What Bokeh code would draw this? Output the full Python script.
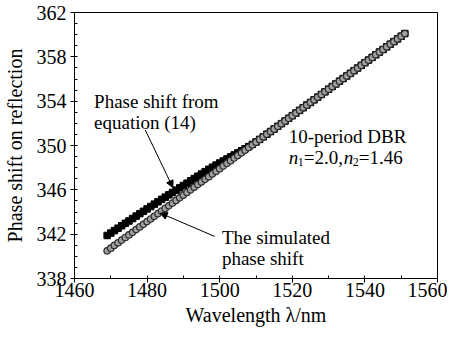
from bokeh.plotting import figure
from bokeh.models import ColumnDataSource, Label, Arrow, NormalHead, Range1d, FixedTicker
from bokeh.embed import file_html
from bokeh.resources import INLINE

# wavelength grid (nm)
wavelength = list(range(1469, 1552))

# phase shift from equation (14)
phase_eq14 = [
    341.88, 342.10, 342.32, 342.54, 342.76, 342.98, 343.19, 343.41, 343.63, 343.85,
    344.06, 344.28, 344.49, 344.71, 344.92, 345.14, 345.34, 345.55, 345.76, 345.97,
    346.18, 346.39, 346.60, 346.81, 347.02, 347.23, 347.43, 347.64, 347.85, 348.04,
    348.23, 348.42, 348.61, 348.79, 348.97, 349.15, 349.33, 349.52, 349.71, 349.90,
    350.10, 350.32, 350.55, 350.78, 351.02, 351.26, 351.49, 351.73, 351.97, 352.21,
    352.45, 352.69, 352.93, 353.17, 353.41, 353.65, 353.88, 354.12, 354.36, 354.60,
    354.84, 355.08, 355.32, 355.56, 355.80, 356.04, 356.27, 356.51, 356.75, 356.99,
    357.23, 357.47, 357.71, 357.95, 358.19, 358.43, 358.66, 358.90, 359.14, 359.38,
    359.62, 359.86, 360.10,
]

# simulated phase shift
phase_sim = [
    340.50, 340.74, 340.98, 341.22, 341.46, 341.70, 341.93, 342.17, 342.41, 342.65,
    342.89, 343.13, 343.37, 343.61, 343.85, 344.09, 344.32, 344.56, 344.80, 345.04,
    345.28, 345.52, 345.76, 346.00, 346.24, 346.48, 346.71, 346.95, 347.19, 347.43,
    347.67, 347.91, 348.15, 348.39, 348.63, 348.87, 349.10, 349.34, 349.58, 349.82,
    350.06, 350.30, 350.54, 350.78, 351.02, 351.26, 351.49, 351.73, 351.97, 352.21,
    352.45, 352.69, 352.93, 353.17, 353.41, 353.65, 353.88, 354.12, 354.36, 354.60,
    354.84, 355.08, 355.32, 355.56, 355.80, 356.04, 356.27, 356.51, 356.75, 356.99,
    357.23, 357.47, 357.71, 357.95, 358.19, 358.43, 358.66, 358.90, 359.14, 359.38,
    359.62, 359.86, 360.10,
]

x_ticks = [1460, 1480, 1500, 1520, 1540, 1560]
y_ticks = [338, 342, 346, 350, 354, 358, 362]

FONT = "Liberation Serif"

p = figure(width=447, height=333, output_backend="svg", toolbar_location=None,
           x_range=Range1d(1460, 1560), y_range=Range1d(338, 362),
           min_border_left=68, min_border_right=10, min_border_top=12,
           min_border_bottom=55)
p.background_fill_color = "white"
p.border_fill_color = "white"
p.outline_line_color = "black"
p.outline_line_width = 1
p.xgrid.visible = False
p.ygrid.visible = False

src = ColumnDataSource(dict(x=wavelength, eq=phase_eq14, sim=phase_sim))
p.scatter("x", "eq", source=src, marker="square", size=6.5,
          fill_color="black", line_color="black")
p.scatter("x", "sim", source=src, marker="circle", size=6.5,
          fill_color="#a0a0a0", line_color="#2a2a2a", line_width=1.2)

p.axis.major_label_text_font = FONT
p.axis.axis_label_text_font = FONT
for ax in (p.xaxis[0], p.yaxis[0]):
    ax.axis_line_color = "black"
    ax.major_tick_line_color = "black"
    ax.minor_tick_line_color = "black"
    ax.major_tick_out = 4
    ax.major_tick_in = 0
    ax.minor_tick_out = 0
    ax.minor_tick_in = 3
    ax.major_label_text_font = FONT
    ax.major_label_text_font_style = "normal"
    ax.major_label_text_font_size = "20px"
    ax.major_label_text_color = "black"
    ax.axis_label_text_font = FONT
    ax.axis_label_text_font_size = "20px"
    ax.axis_label_text_font_style = "normal"
    ax.axis_label_text_color = "black"

p.xaxis[0].ticker = FixedTicker(ticks=x_ticks, minor_ticks=list(range(1460, 1561, 10)))
p.yaxis[0].ticker = FixedTicker(ticks=y_ticks, minor_ticks=list(range(338, 363, 1)))
p.xaxis[0].axis_label = "Wavelength λ/nm"
p.yaxis[0].axis_label = "Phase shift on reflection"
p.xaxis[0].major_label_standoff = 0
p.xaxis[0].axis_label_standoff = 4
p.yaxis[0].major_label_standoff = 4
p.yaxis[0].axis_label_standoff = 8

def lab(x, y, text, size="19px", style="normal", x_offset=0, y_offset=0):
    p.add_layout(Label(x=x, y=y, text=text, text_font=FONT, text_font_size=size,
                       text_font_style=style, text_color="black",
                       text_baseline="alphabetic", text_align="left",
                       x_offset=x_offset, y_offset=y_offset))

lab(1465.4, 353.97, "Phase shift from")
lab(1465.4, 352.11, "equation (14)")
lab(1519.0, 350.78, "10-period DBR")
# n1=2.0,n2=1.46 composed of parts
ny = 348.91
lab(1519.0, ny, "n", style="italic")
lab(1519.0, ny, "1", size="12px", x_offset=9, y_offset=-4)
lab(1519.0, ny, "=2.0,", x_offset=15)
lab(1519.0, ny, "n", style="italic", x_offset=55)
lab(1519.0, ny, "2", size="12px", x_offset=64, y_offset=-4)
lab(1519.0, ny, "=1.46", x_offset=70)
lab(1500.6, 341.72, "The simulated")
lab(1500.6, 339.77, "phase shift")

p.add_layout(Arrow(x_start=1479.5, y_start=351.4, x_end=1487.1, y_end=346.2,
                   line_color="black", line_width=1,
                   end=NormalHead(size=7, fill_color="black", line_color="black")))
p.add_layout(Arrow(x_start=1498.6, y_start=341.8, x_end=1483.6, y_end=343.9,
                   line_color="black", line_width=1,
                   end=NormalHead(size=7, fill_color="black", line_color="black")))

open("out.html", "w").write(file_html(p, INLINE))
